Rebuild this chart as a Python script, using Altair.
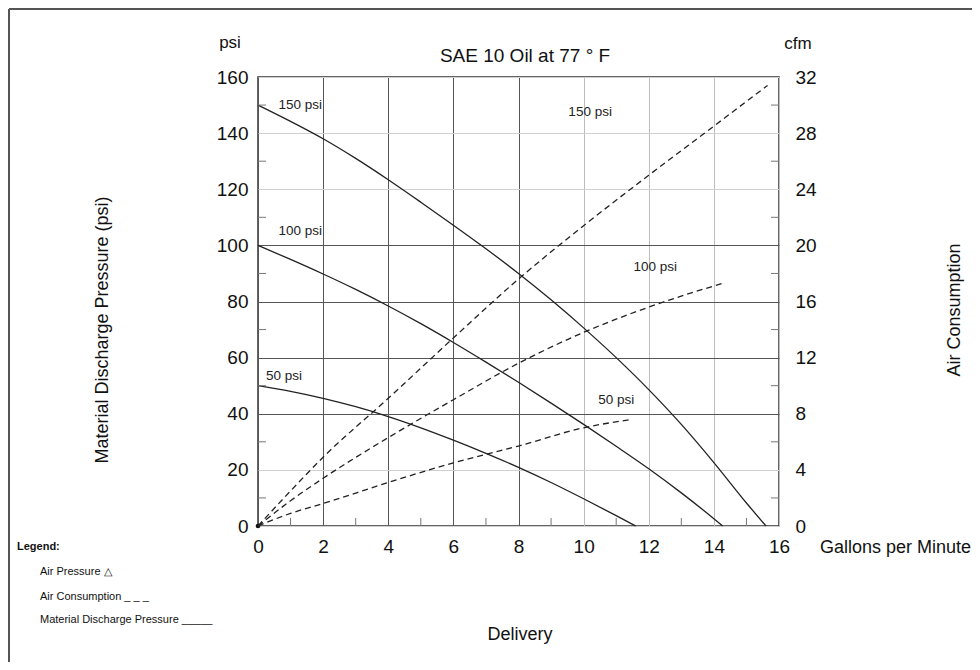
import altair as alt
import pandas as pd

# ---------------- data ----------------
# Material discharge pressure (psi) vs delivery (gpm), solid curves
gpm_150 = [0, 1, 2, 3, 4, 5, 6, 7, 8, 9, 10, 11, 12, 13, 14, 15, 15.6]
psi_150 = [150, 144.2, 138, 131, 123.4, 115.4, 107.2, 98.8, 90, 80.6, 70.6, 60, 48.6, 36.2, 22.6, 8.2, 0]
gpm_100 = [0, 1, 2, 3, 4, 5, 6, 7, 8, 9, 10, 11, 12, 13, 14, 14.27]
psi_100 = [100, 95, 89.8, 84.3, 78.4, 72.1, 65.4, 58.4, 51.2, 43.8, 36.2, 28.4, 20.4, 11.8, 2.6, 0]
gpm_50 = [0, 1, 2, 3, 4, 5, 6, 7, 8, 9, 10, 11, 11.6]
psi_50 = [50, 48, 45.5, 42.5, 39, 35, 30.6, 25.9, 20.9, 15.5, 9.7, 3.7, 0]

# Air consumption (cfm) vs delivery (gpm), dashed curves
air_gpm_150 = [0, 1, 2, 4, 6, 8, 10, 12, 14, 15.65]
air_cfm_150 = [0, 2.5, 4.9, 9.1, 13.4, 17.6, 21.4, 25, 28.5, 31.4]
air_gpm_100 = [0, 1, 2, 4, 6, 8, 10, 12, 14.27]
air_cfm_100 = [0, 1.8, 3.4, 6.3, 9, 11.6, 13.8, 15.6, 17.3]
air_gpm_50 = [0, 1, 2, 4, 6, 8, 10, 11.5]
air_cfm_50 = [0, 0.9, 1.6, 3.1, 4.5, 5.7, 7.0, 7.6]

# curve labels
label_text = ["150 psi", "100 psi", "50 psi", "150 psi", "100 psi", "50 psi"]
label_gpm = [1.3, 1.3, 0.8, 10.2, 12.2, 11.0]
label_psi = [150, 105, 53.5, 147.5, 92.3, 44.9]

x_ticks = [0, 2, 4, 6, 8, 10, 12, 14, 16]
x_minor = [1, 3, 5, 7, 9, 11, 13, 15]
psi_ticks = [0, 20, 40, 60, 80, 100, 120, 140, 160]
psi_minor = [10, 30, 50, 70, 90, 110, 130, 150]
cfm_ticks = [0, 4, 8, 12, 16, 20, 24, 28, 32]

W, H = 521, 449
FONT = "Liberation Sans"

def long(series, xs, ys, yname):
    return pd.DataFrame({"series": series, "i": range(len(xs)), "gpm": xs, yname: ys})

solid_df = pd.concat([
    long("150", gpm_150, psi_150, "psi"),
    long("100", gpm_100, psi_100, "psi"),
    long("50", gpm_50, psi_50, "psi"),
])
dash_df = pd.concat([
    long("150", air_gpm_150, air_cfm_150, "cfm"),
    long("100", air_gpm_100, air_cfm_100, "cfm"),
    long("50", air_gpm_50, air_cfm_50, "cfm"),
])
labels_df = pd.DataFrame({"t": label_text, "gpm": label_gpm, "psi": label_psi})

xscale = alt.Scale(domain=[0, 16], nice=False, zero=False)
psiscale = alt.Scale(domain=[0, 160], nice=False, zero=False)
cfmscale = alt.Scale(domain=[0, 32], nice=False, zero=False)

x_axis = alt.Axis(
    values=x_ticks, title=None, grid=True, domain=False, ticks=False, labelFlush=False,
    gridColor={"condition": {"test": "datum.value <= 8", "value": "#555555"}, "value": "#bdbdbd"},
    gridWidth=1, labelFont=FONT, labelFontSize=19, labelColor="#111", labelPadding=11,
)
psi_axis = alt.Axis(
    values=psi_ticks, title=None, grid=True, domain=False, ticks=False, labelFlush=False,
    gridColor={"condition": {"test": "datum.value >= 40 && datum.value <= 100", "value": "#555555"}, "value": "#d0d0d0"},
    gridWidth=1, labelFont=FONT, labelFontSize=19, labelColor="#111", labelPadding=10,
)
cfm_axis = alt.Axis(
    values=cfm_ticks, title=None, grid=False, domain=False, ticks=False, orient="right", labelFlush=False,
    labelFont=FONT, labelFontSize=19, labelColor="#111", labelPadding=16,
)

def X():
    return alt.X("gpm:Q", scale=xscale, axis=x_axis)

def Y():
    return alt.Y("psi:Q", scale=psiscale, axis=psi_axis)

solid = alt.Chart(solid_df).mark_line(color="#222", strokeWidth=1.3, interpolate="monotone").encode(
    x=X(), y=Y(), detail="series:N", order="i:Q",
)

xminor = alt.Chart(pd.DataFrame({"gpm": x_minor})).mark_rule(color="#777", strokeWidth=1).encode(
    x=X(), y=alt.value(H), y2=alt.value(H - 8)
)
yminor_l = alt.Chart(pd.DataFrame({"psi": psi_minor})).mark_rule(color="#777", strokeWidth=1).encode(
    y=Y(), x=alt.value(0), x2=alt.value(8)
)
yminor_r = alt.Chart(pd.DataFrame({"psi": psi_minor})).mark_rule(color="#777", strokeWidth=1).encode(
    y=Y(), x=alt.value(W), x2=alt.value(W - 8)
)
origin = alt.Chart(pd.DataFrame({"gpm": [0], "psi": [0]})).mark_point(
    filled=True, color="#111", size=22, opacity=1
).encode(x=X(), y=Y())

labels = alt.Chart(labels_df).mark_text(font=FONT, fontSize=13.5, color="#222", baseline="middle").encode(
    x=X(), y=Y(), text="t:N"
)

# annotations: text, x, y (px relative to plot origin), size, angle, align, weight
ann_text = ["SAE 10 Oil at 77 ° F", "psi", "cfm", "Gallons per Minute", "Delivery",
            "Material Discharge Pressure (psi)", "Air Consumption",
            "Legend:", "Air Pressure △", "Air Consumption _ _ _", "Material Discharge Pressure _____"]
ann_x = [267, -28, 540, 562, 262, -155, 697, -241, -218, -218, -218]
ann_y = [-21, -34, -33, 471, 558, 253, 233, 470, 495, 520, 543]
ann_size = [19, 17, 17, 18, 18, 18, 18, 11, 11, 11, 11]
ann_angle = [0, 0, 0, 0, 0, 270, 270, 0, 0, 0, 0]
ann_align = ["center", "center", "center", "left", "center", "center", "center", "left", "left", "left", "left"]
ann_weight = ["normal"] * 7 + ["bold", "normal", "normal", "normal"]

ann_layers = []
for t, ax, ay, s, an, al, w in zip(ann_text, ann_x, ann_y, ann_size, ann_angle, ann_align, ann_weight):
    ann_layers.append(
        alt.Chart(pd.DataFrame({"t": [t]})).mark_text(
            font=FONT, fontSize=s, angle=an, align=al, baseline="middle", fontWeight=w, color="#111"
        ).encode(x=alt.value(ax), y=alt.value(ay), text="t:N")
    )

frame_df = pd.DataFrame({"a": [0]})
frame_top = alt.Chart(frame_df).mark_rule(color="#555", strokeWidth=2).encode(
    x=alt.value(-249), x2=alt.value(W + 193), y=alt.value(-68)
)
frame_left = alt.Chart(frame_df).mark_rule(color="#555", strokeWidth=2).encode(
    x=alt.value(-249), y=alt.value(-68), y2=alt.value(H + 140)
)

left_group = alt.layer(solid, xminor, yminor_l, yminor_r, origin, labels, frame_top, frame_left, *ann_layers)

dashed = alt.Chart(dash_df).mark_line(color="#222", strokeWidth=1.3, strokeDash=[6, 4], interpolate="monotone").encode(
    x=X(),
    y=alt.Y("cfm:Q", scale=cfmscale, axis=cfm_axis),
    detail="series:N", order="i:Q",
)

chart = alt.layer(left_group, dashed).resolve_scale(y="independent").properties(
    width=W, height=H,
    padding={"left": 250, "top": 69, "right": 193, "bottom": 136},
    autosize=alt.AutoSizeParams(type="none"),
    background="white",
).configure_view(stroke="#333", strokeWidth=1.5)

chart.save("out.html", embed_options={"renderer": "svg", "actions": False})
